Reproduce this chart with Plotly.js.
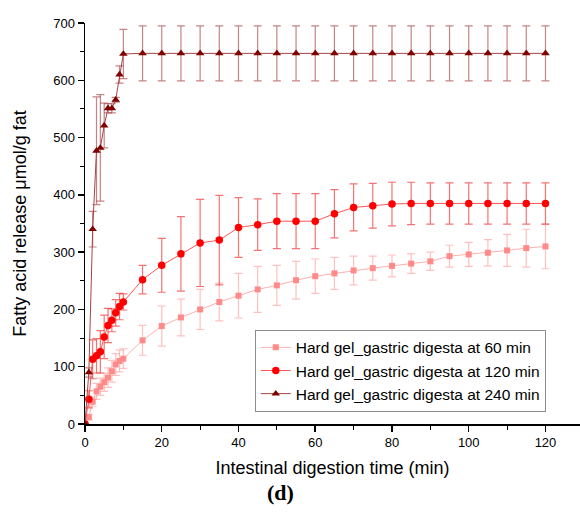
<!DOCTYPE html>
<html>
<head>
<meta charset="utf-8">
<script src="https://cdn.plot.ly/plotly-3.0.1.min.js"></script>
<style>html,body{margin:0;padding:0;background:#fff;}#chart{width:580px;height:512px;}</style>
</head>
<body>
<div id="chart"></div>
<script>
// Intestinal digestion time (min)
const times = [0,1,2,3,4,5,6,7,8,9,10,15,20,25,30,35,40,45,50,55,60,65,70,75,80,85,90,95,100,105,110,115,120];

// Hard gel_gastric digesta at 60 min
const ffa60 = [0,12,39,57,65,73,81,92,104,110,114,146,171,186,200,213,224,235,242,251,258,263,268,272,276,280,284,293,296,299,303,307,310];
const err60 = [0,5,8,14,15,16,17,19,19,19,17,26,35,32,35,33,39,40,35,33,30,28,25,21,19,17,16,19,21,23,28,33,39];

// Hard gel_gastric digesta at 120 min
const ffa120 = [0,43,113,119,126,152,172,181,194,205,213,252,277,297,316,321,343,348,354,354,354,367,378,381,384,385,385,385,385,385,385,385,385];
const err120 = [0,15,34,30,37,38,30,20,23,23,14,25,47,65,76,78,52,45,48,48,48,42,41,39,38,37,36,36,36,36,36,36,36];

// Hard gel_gastric digesta at 240 min
const ffa240 = [0,90,340,477,482,521,551,551,566,610,646,647,647,647,647,647,647,647,647,647,647,647,647,647,647,647,647,647,647,647,647,647,647];
const err240 = [0,8,31,94,93,39,8,8,4,15,43,48,48,48,48,48,48,48,48,48,48,48,48,48,48,48,48,48,48,48,48,48,48];

const seriesNames = ['Hard gel_gastric digesta at 60 min','Hard gel_gastric digesta at 120 min','Hard gel_gastric digesta at 240 min'];

function trace(name, y, e, mColor, lColor, eColor, symbol, size) {
  return {
    type: 'scatter', mode: 'lines+markers', name: name,
    x: times, y: y,
    line: {color: lColor, width: 1},
    marker: {color: mColor, symbol: symbol, size: size},
    error_y: {type: 'data', array: e, visible: true, color: eColor, thickness: 1.2, width: 4}
  };
}

const data = [
  trace(seriesNames[0], ffa60, err60, '#ff8a8a', '#ffb0b0', 'rgba(255,140,140,0.55)', 'square', 6),
  trace(seriesNames[1], ffa120, err120, '#ff0000', '#ff5555', 'rgba(240,40,40,0.65)', 'circle', 7.5),
  trace(seriesNames[2], ffa240, err240, '#800000', '#a84444', 'rgba(160,50,50,0.6)', 'triangle-up', 7.5)
];

const layout = {
  width: 580, height: 512,
  margin: {l: 85, r: 0, t: 23, b: 88},
  paper_bgcolor: '#ffffff', plot_bgcolor: '#ffffff',
  font: {family: 'Liberation Sans, Arial, sans-serif', color: '#000'},
  showlegend: true,
  legend: {
    x: 0.343, y: 0.235, xanchor: 'left', yanchor: 'top',
    bgcolor: '#ffffff', bordercolor: '#8c8c8c', borderwidth: 1,
    font: {size: 15.5, family: 'Liberation Sans, Arial, sans-serif', color: '#000'},
    tracegroupgap: 0
  },
  xaxis: {
    range: [0, 129], showgrid: false, zeroline: false,
    showline: true, linecolor: '#000', linewidth: 1.5, mirror: false,
    ticks: 'outside', ticklen: 6, tickwidth: 1.5, tickcolor: '#000',
    dtick: 20, tick0: 0,
    tickfont: {size: 13},
    minor: {dtick: 10, ticks: 'outside', ticklen: 4, tickwidth: 1, tickcolor: '#000', showgrid: false},
    title: {text: 'Intestinal digestion time (min)', font: {size: 18}, standoff: 12}
  },
  yaxis: {
    range: [0, 700], showgrid: false, zeroline: false,
    showline: true, linecolor: '#000', linewidth: 1.5, mirror: false,
    ticks: 'outside', ticklen: 6, tickwidth: 1.5, tickcolor: '#000',
    dtick: 100, tick0: 0,
    tickfont: {size: 13},
    minor: {dtick: 50, ticks: 'outside', ticklen: 4, tickwidth: 1, tickcolor: '#000', showgrid: false},
    title: {text: 'Fatty acid release μmol/g fat', font: {size: 18}, standoff: 22}
  },
  annotations: [{
    text: '<b>(d)</b>', xref: 'paper', yref: 'paper', x: 0.394, y: -0.171,
    xanchor: 'center', yanchor: 'middle', showarrow: false,
    font: {family: 'Liberation Serif, Times New Roman, serif', size: 22, color: '#000'}
  }]
};

Plotly.newPlot('chart', data, layout, {displayModeBar: false, staticPlot: true});
</script>
</body>
</html>
